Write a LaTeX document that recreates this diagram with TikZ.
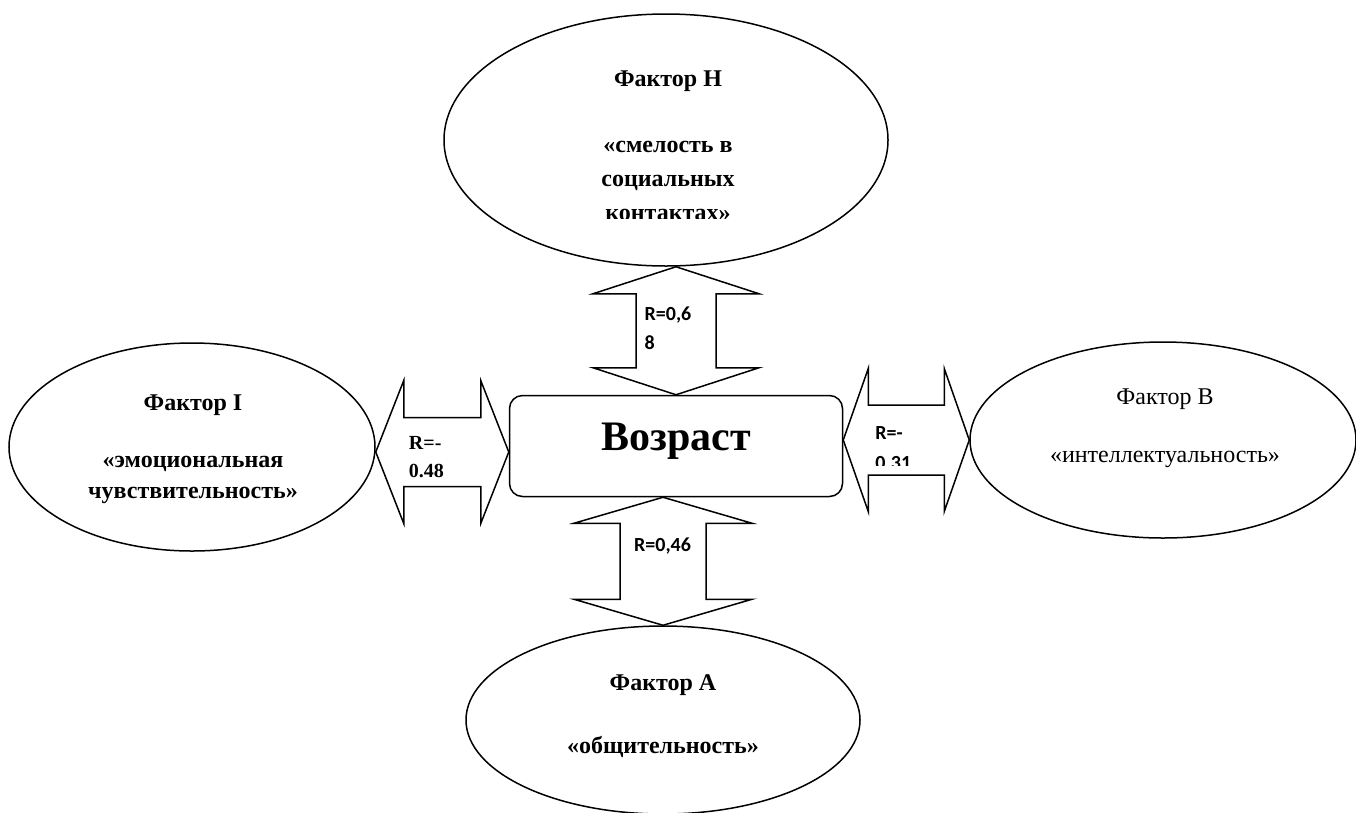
\documentclass[tikz,border=0pt]{standalone}
\usepackage{fontspec}
\setmainfont{Liberation Serif}
\newfontfamily\calfont{Carlito}
\usetikzlibrary{shapes.geometric}

\begin{document}
\begin{tikzpicture}[x=1pt,y=-1pt,
    factor/.style={draw,ellipse,line width=1.5pt,inner sep=0pt},
    facttext/.style={align=center,anchor=base,inner sep=0pt,
      font=\bfseries\fontsize{24}{34}\selectfont},
    rlabel/.style={align=left,anchor=base west,inner sep=0pt,
      font=\calfont\bfseries\fontsize{20}{29}\selectfont},
    blockarrow/.style={line width=1.5pt,line join=miter}]
      \def\vdoublearrow#1#2#3#4#5{%
    \draw[blockarrow] (#1)
      -- ([shift={(-#3,#5)}]#1) -- ([shift={(-#4,#5)}]#1)
      -- ([shift={(-#4,-#5)}]#2) -- ([shift={(-#3,-#5)}]#2)
      -- (#2)
      -- ([shift={(#3,-#5)}]#2) -- ([shift={(#4,-#5)}]#2)
      -- ([shift={(#4,#5)}]#1) -- ([shift={(#3,#5)}]#1)
      -- cycle;%
  }
      \def\hdoublearrow#1#2#3#4#5{%
    \draw[blockarrow] (#1)
      -- ([shift={(#5,-#3)}]#1) -- ([shift={(#5,-#4)}]#1)
      -- ([shift={(-#5,-#4)}]#2) -- ([shift={(-#5,-#3)}]#2)
      -- (#2)
      -- ([shift={(-#5,#3)}]#2) -- ([shift={(-#5,#4)}]#2)
      -- ([shift={(#5,#4)}]#1) -- ([shift={(#5,#3)}]#1)
      -- cycle;%
  }
\useasboundingbox (0,0) rectangle (1356,812);

% the four factors
\node[factor,minimum width=444pt,minimum height=252pt] (fH) at (666,140) {};
\node[factor,minimum width=366pt,minimum height=208pt] (fI) at (192,447) {};
\node[factor,minimum width=386pt,minimum height=196pt] (fB) at (1163,440) {};
\node[factor,minimum width=394pt,minimum height=188pt] (fA) at (663,720) {};

% base anchor = last line
\begin{scope}
    \clip (450,20) rectangle (880,218);
    \node[facttext] (tH) at (668,220) {Фактор Н\\[32pt]«смелость в\\социальных\\контактах»};
\end{scope}
\node[facttext,font=\bfseries\fontsize{24}{31}\selectfont] (tI) at (193,498)
    {Фактор I\\[26pt]«эмоциональная\\чувствительность»};
\node[facttext,font=\fontsize{24}{34}\selectfont] (tB) at (1165,462)
    {Фактор В\\[24pt]«интеллектуальность»};
\node[facttext] (tA) at (663,753) {Фактор А\\[29pt]«общительность»};

% centre
\node[draw,rounded corners=13pt,line width=1.5pt,minimum width=333pt,minimum height=101pt,
    font=\bfseries\fontsize{42}{50}\selectfont,text height=28pt,text depth=19pt]
    (age) at (676,446) {Возраст};

% block arrows
\coordinate (hTop) at (age.north |- fH.south);
\coordinate (aTop) at (fA.north |- age.south);
\coordinate (iLeft) at ([yshift=-5pt]fI.east);
\coordinate (iRight) at (age.west |- iLeft);
\coordinate (bLeft) at ([yshift=6pt]age.east);
\coordinate (bRight) at (fB.west |- bLeft);

\vdoublearrow{hTop}{age.north}{83}{40}{27}
\vdoublearrow{aTop}{fA.north}{89}{43}{26}
\hdoublearrow{iLeft}{iRight}{71.5}{34.5}{28}
\hdoublearrow{bLeft}{bRight}{71.5}{35}{25}

\node[rlabel] (rH) at ([shift={(-31.5,83)}]hTop) {R=0,6\\8};
\node[rlabel] (rA) at ([shift={(-29,54)}]aTop) {R=0,46};
\node[rlabel,font=\rmfamily\bfseries\fontsize{20}{28}\selectfont] (rI) at ([shift={(33,25)}]iLeft) {R=-\\0.48};
\begin{scope}
    \clip (850,400) rectangle (960,465);
    \node[rlabel,font=\calfont\bfseries\fontsize{20}{30}\selectfont] (rB) at ([shift={(32,29)}]bLeft) {R=-\\0.31};
\end{scope}

\end{tikzpicture}
\end{document}
